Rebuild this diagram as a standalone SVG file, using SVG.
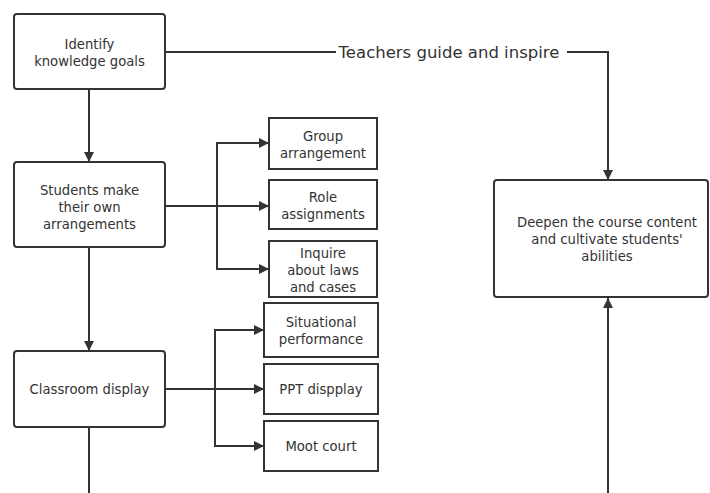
<svg xmlns="http://www.w3.org/2000/svg" width="710" height="493" viewBox="0 0 710 493">
<defs>
<marker id="ah" viewBox="0 0 10 10" refX="10" refY="5" markerWidth="10" markerHeight="10" markerUnits="userSpaceOnUse" orient="auto">
<path d="M0,0 L10,5 L0,10 z" fill="#333"/>
</marker>
<style>
.n{fill:#fff;stroke:#333;stroke-width:2}
.t{font-family:"DejaVu Sans",sans-serif;font-size:13.2px;fill:#333;text-anchor:middle;dominant-baseline:central}
.c{fill:none;stroke:#333;stroke-width:2}
.a{marker-end:url(#ah)}
</style>
</defs>
<rect width="710" height="493" fill="#fff"/>
<g id="connectors">
<path class="c a" d="M89,89 V162"/>
<path class="c a" d="M89,247 V351"/>
<path class="c" d="M89,427 V493"/>
<path class="c" d="M165,52 H336"/>
<path class="c a" d="M567,52 H608 V180"/>
<path class="c a" d="M608,493 V298"/>
<path class="c a" d="M165,206 H269"/>
<path class="c a" d="M217,206 V143 H269"/>
<path class="c a" d="M217,206 V269 H269"/>
<path class="c a" d="M165,389 H264"/>
<path class="c a" d="M215,389 V330 H264"/>
<path class="c a" d="M215,389 V446 H264"/>
<text x="449" y="52" style="font-family:'DejaVu Sans',sans-serif;font-size:16.5px;fill:#333;text-anchor:middle;dominant-baseline:central">Teachers guide and inspire</text>
</g>
<g id="n1"><rect class="n" x="14" y="14" width="151" height="75" rx="3"/>
<text class="t" x="89.5" y="44">Identify</text><text class="t" x="89.5" y="61">knowledge goals</text></g>
<g id="n2"><rect class="n" x="14" y="162" width="151" height="85" rx="3"/>
<text class="t" x="89.5" y="190">Students make</text><text class="t" x="89.5" y="207">their own</text><text class="t" x="89.5" y="224">arrangements</text></g>
<g id="n3"><rect class="n" x="14" y="351" width="151" height="76" rx="3"/>
<text class="t" x="89.5" y="389">Classroom display</text></g>
<g id="n4"><rect class="n" x="494" y="180" width="214" height="117" rx="3"/>
<text class="t" x="607" y="222">Deepen the course content</text><text class="t" x="607" y="239">and cultivate students'</text><text class="t" x="607" y="256">abilities</text></g>
<g id="g1"><rect class="n" x="269" y="118" width="108" height="51"/>
<text class="t" x="323" y="136">Group</text><text class="t" x="323" y="153">arrangement</text></g>
<g id="g2"><rect class="n" x="269" y="180" width="108" height="49"/>
<text class="t" x="323" y="197">Role</text><text class="t" x="323" y="214">assignments</text></g>
<g id="g3"><rect class="n" x="269" y="241" width="108" height="56"/>
<text class="t" x="323" y="253">Inquire</text><text class="t" x="323" y="270">about laws</text><text class="t" x="323" y="287">and cases</text></g>
<g id="s1"><rect class="n" x="264" y="303" width="114" height="54"/>
<text class="t" x="321" y="322">Situational</text><text class="t" x="321" y="339">performance</text></g>
<g id="s2"><rect class="n" x="264" y="364" width="114" height="50"/>
<text class="t" x="321" y="389">PPT dispplay</text></g>
<g id="s3"><rect class="n" x="264" y="421" width="114" height="50"/>
<text class="t" x="321" y="446">Moot court</text></g>
</svg>
